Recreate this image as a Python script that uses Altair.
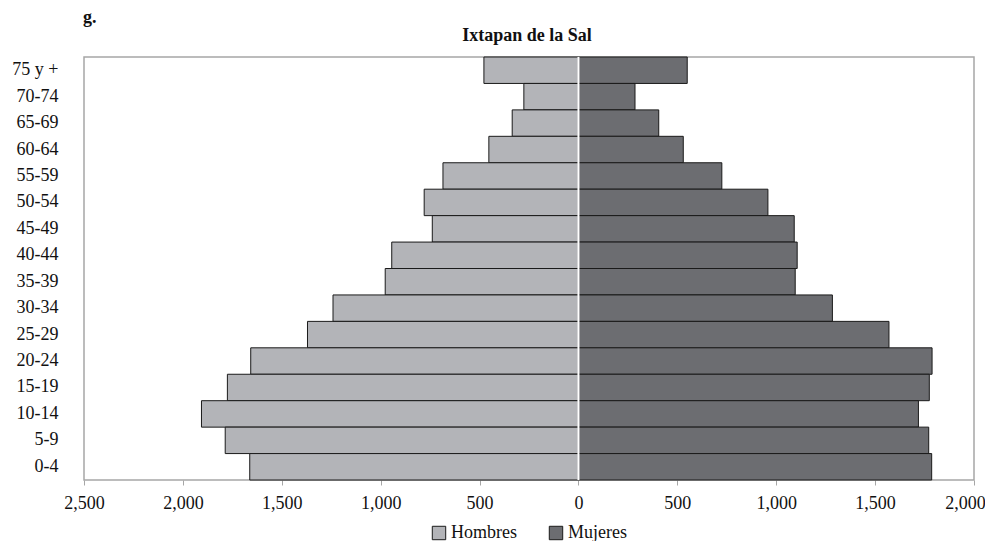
import altair as alt
import pandas as pd

ages = ["75 y +", "70-74", "65-69", "60-64", "55-59", "50-54", "45-49", "40-44",
        "35-39", "30-34", "25-29", "20-24", "15-19", "10-14", "5-9", "0-4"]
hombres = [478, 276, 335, 453, 685, 780, 739, 944, 977, 1241, 1370, 1657, 1775, 1906, 1786, 1662]
mujeres = [550, 286, 406, 530, 725, 958, 1091, 1106, 1096, 1284, 1570, 1788, 1774, 1719, 1771, 1786]
series = ["Hombres", "Mujeres"]
colors = ["#b3b4b8", "#6c6d71"]
ticks = [-2500, -2000, -1500, -1000, -500, 0, 500, 1000, 1500, 2000]
panel_tag = "g."
panel_title = "Ixtapan de la Sal"

rows = []
for a, h, m in zip(ages, hombres, mujeres):
    rows.append({"edad": a, "sexo": "Hombres", "valor": -h})
    rows.append({"edad": a, "sexo": "Mujeres", "valor": m})
df = pd.DataFrame(rows)

FONT = "Liberation Serif"
W, H = 890, 423

bars = alt.Chart(df).mark_bar(stroke="#1a1a1a", strokeWidth=1).encode(
    x=alt.X("valor:Q", stack=None,
            scale=alt.Scale(domain=[-2500, 2000], nice=False, zero=False),
            axis=alt.Axis(values=ticks, title=None, grid=False, domain=False,
                          ticks=True, tickColor="#a6a6a6", tickSize=5,
                          labelExpr="format(abs(datum.value), ',')",
                          labelFlush=False, labelOverlap=False, labelBound=False,
                          labelOffset={"condition": {"test": "datum.value >= 2000", "value": -9},
                                       "value": 0},
                          labelFont=FONT, labelFontSize=18, labelColor="#111",
                          labelPadding=9)),
    y=alt.Y("edad:N", sort=ages,
            scale=alt.Scale(paddingInner=0, paddingOuter=0),
            axis=alt.Axis(title=None, ticks=False, domain=False, grid=False,
                          labelFont=FONT, labelFontSize=18, labelColor="#111",
                          labelPadding=26)),
    color=alt.Color("sexo:N",
                    scale=alt.Scale(domain=series, range=colors),
                    legend=alt.Legend(title=None, orient="none", direction="horizontal",
                                      legendX=346, legendY=467,
                                      symbolType="square", symbolSize=180,
                                      symbolStrokeColor="#1a1a1a", symbolStrokeWidth=1,
                                      symbolOpacity=1,
                                      labelFont=FONT, labelFontSize=18, labelColor="#111",
                                      columnPadding=30, labelOffset=3)),
)

zero = alt.Chart(pd.DataFrame({"z": [0]})).mark_rule(color="white", strokeWidth=2).encode(
    x=alt.X("z:Q")
)

tag = alt.Chart(pd.DataFrame({"t": [panel_tag]})).mark_text(
    font=FONT, fontSize=18, fontWeight="bold", align="left", baseline="middle", color="#111"
).encode(text="t:N", x=alt.value(-1), y=alt.value(-39))

ttl = alt.Chart(pd.DataFrame({"t": [panel_title]})).mark_text(
    font=FONT, fontSize=18, fontWeight="bold", align="center", baseline="middle", color="#111"
).encode(text="t:N", x=alt.value(W / 2 - 2), y=alt.value(-21))

chart = alt.layer(bars, zero, tag, ttl).properties(
    width=W, height=H,
    autosize=alt.AutoSizeParams(type="none"),
    padding={"left": 76, "top": 49, "right": 11, "bottom": 61},
).configure_view(stroke="#a6a6a6", strokeWidth=1.5)

chart.save("out.html", embed_options={"renderer": "svg", "actions": False})
